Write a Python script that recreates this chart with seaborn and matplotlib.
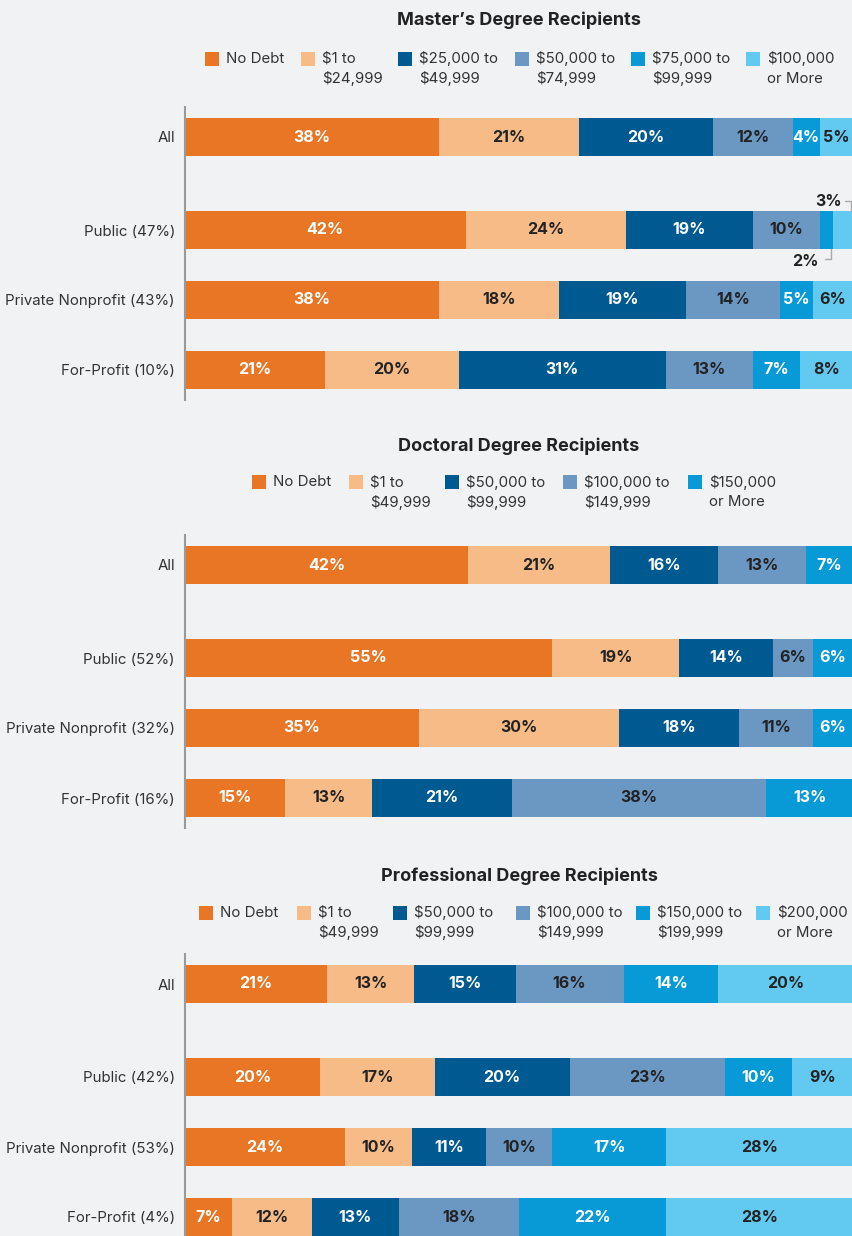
import matplotlib
matplotlib.use("Agg")
import matplotlib.pyplot as plt
from matplotlib.patches import Rectangle
import seaborn as sns
import pandas as pd

# ---------------- data ----------------
masters_rows = ["All", "Public (47%)", "Private Nonprofit (43%)", "For-Profit (10%)"]
doctoral_rows = ["All", "Public (52%)", "Private Nonprofit (32%)", "For-Profit (16%)"]
prof_rows = ["All", "Public (42%)", "Private Nonprofit (53%)", "For-Profit (4%)"]

masters_categories = ["No Debt", "$1 to\n$24,999", "$25,000 to\n$49,999",
                      "$50,000 to\n$74,999", "$75,000 to\n$99,999", "$100,000\nor More"]
doctoral_categories = ["No Debt", "$1 to\n$49,999", "$50,000 to\n$99,999",
                       "$100,000 to\n$149,999", "$150,000\nor More"]
prof_categories = ["No Debt", "$1 to\n$49,999", "$50,000 to\n$99,999",
                   "$100,000 to\n$149,999", "$150,000 to\n$199,999", "$200,000\nor More"]

masters_all = [38, 21, 20, 12, 4, 5]
masters_public = [42, 24, 19, 10, 2, 3]
masters_private = [38, 18, 19, 14, 5, 6]
masters_forprofit = [21, 20, 31, 13, 7, 8]

doctoral_all = [42, 21, 16, 13, 7]
doctoral_public = [55, 19, 14, 6, 6]
doctoral_private = [35, 30, 18, 11, 6]
doctoral_forprofit = [15, 13, 21, 38, 13]

prof_all = [21, 13, 15, 16, 14, 20]
prof_public = [20, 17, 20, 23, 10, 9]
prof_private = [24, 10, 11, 10, 17, 28]
prof_forprofit = [7, 12, 13, 18, 22, 28]

titles = ["Master\u2019s Degree Recipients", "Doctoral Degree Recipients",
          "Professional Degree Recipients"]

# ---------------- style ----------------
COLORS = ["#E87624", "#F6BB86", "#005A92", "#6B98C3", "#079AD7", "#62CAF1"]
TEXT_COLORS = ["white", "#222222", "white", "#222222", "white", "#222222"]
BG = "#F1F2F4"
FONT = "Inter"

sns.set_theme(style="white")
plt.rcParams["font.family"] = [FONT, "DejaVu Sans"]
plt.rcParams["text.parse_math"] = False

W, H = 853, 1236
fig = plt.figure(figsize=(W / 100, H / 100), dpi=100, facecolor=BG)


def fx(x):
    return x / W


def fy(y):
    return 1 - y / H


PX_PER_UNIT = 70.0
ROW_POS = [0.0, 93 / 70, 93 / 70 + 1, 93 / 70 + 2]
BAR_W = 38 / 70
AX_LEFT, AX_RIGHT = 185, 853


def draw_panel(center_px, rows, cats, series, title, title_y, leg_y,
               handle_x):
    top = center_px - 30
    bottom = min(center_px + 263, H)
    ax = fig.add_axes([fx(AX_LEFT), fy(bottom), fx(AX_RIGHT - AX_LEFT),
                       (bottom - top) / H])
    ax.set_facecolor(BG)
    ncat = len(cats)
    df = pd.DataFrame(series, columns=cats)
    df["pos"] = ROW_POS
    # rows are drawn as shares of their own total so every bar spans 100%
    totals = df[cats].sum(axis=1)
    cum = df[cats].cumsum(axis=1).div(totals, axis=0) * 100
    share = df[cats].div(totals, axis=0) * 100
    for k in reversed(range(ncat)):
        sns.barplot(x=cum.iloc[:, k].values, y=df["pos"].values, orient="h",
                    native_scale=True, color=COLORS[k], saturation=1,
                    width=BAR_W, linewidth=0, errorbar=None, ax=ax)
    ax.set_xlim(0, 100)
    ax.set_ylim((bottom - center_px) / PX_PER_UNIT, -30 / PX_PER_UNIT)
    ax.set_yticks(ROW_POS)
    ax.set_yticklabels(rows, fontsize=10.8, color="#333333")
    ax.tick_params(axis="y", length=0, pad=7.2)
    ax.set_xticks([])
    ax.set_xlabel("")
    ax.set_ylabel("")
    for s in ["top", "right", "bottom"]:
        ax.spines[s].set_visible(False)
    ax.spines["left"].set_color("#9a9a9a")
    ax.spines["left"].set_linewidth(1.5)

    labels = []
    for i in range(len(rows)):
        for k in range(ncat):
            labels.append((i, k, df[cats[k]].iloc[i], cum.iloc[i, k],
                           share.iloc[i, k]))
    # title
    fig.text(fx(519), fy(title_y), title, ha="center", va="center",
             fontsize=13, fontweight="bold", color="#222222")
    # legend
    for k, lab in enumerate(cats):
        hx = handle_x[k]
        fig.patches.append(Rectangle((fx(hx), fy(leg_y + 7)), 14 / W, 14 / H,
                                     transform=fig.transFigure,
                                     facecolor=COLORS[k], edgecolor="none"))
        for j, line in enumerate(lab.split("\n")):
            fig.text(fx(hx + 21), fy(leg_y + 20 * j), line, ha="left",
                     va="center", fontsize=10.8, color="#333333")
    return ax, df, cum, labels


def put_labels(ax, labels, skip=()):
    for (i, k, v, c, sh) in labels:
        if (i, k) in skip:
            continue
        ax.text(c - sh / 2, ROW_POS[i], f"{v}%", ha="center",
                va="center", fontsize=11.5, fontweight="bold",
                color=TEXT_COLORS[k])


# Master's
ax1, df1, cum1, lab1 = draw_panel(
    137, masters_rows, masters_categories,
    [masters_all, masters_public, masters_private, masters_forprofit],
    titles[0], 20, 59, [205, 301, 398, 515, 631, 746])
put_labels(ax1, lab1, skip={(1, 4), (1, 5)})
# callouts for small Public segments
pub = ROW_POS[1]
half = BAR_W / 2
end5 = cum1.iloc[1, 5]
end4 = cum1.iloc[1, 4]
v5 = masters_public[5]
v4 = masters_public[4]
lc = "#aaaaaa"
ax1.plot([end5 - 1.25, end5 - 0.3, end5 - 0.3],
         [pub - 29 / 70, pub - 29 / 70, pub - half], color=lc, lw=1,
         clip_on=False)
ax1.text(end5 - 1.65, pub - 28 / 70, f"{v5}%", ha="right", va="center",
         fontsize=11.5, fontweight="bold", color="#222222")
ax1.plot([end4 - 1.2, end4 - 0.3, end4 - 0.3],
         [pub + 29 / 70, pub + 29 / 70, pub + half], color=lc, lw=1,
         clip_on=False)
ax1.text(end4 - 2.1, pub + 32 / 70, f"{v4}%", ha="right", va="center",
         fontsize=11.5, fontweight="bold", color="#222222")

# Doctoral
ax2, df2, cum2, lab2 = draw_panel(
    565, doctoral_rows, doctoral_categories,
    [doctoral_all, doctoral_public, doctoral_private, doctoral_forprofit],
    titles[1], 446, 482, [252, 349, 445, 563, 688])
put_labels(ax2, lab2)

# Professional
ax3, df3, cum3, lab3 = draw_panel(
    984, prof_rows, prof_categories,
    [prof_all, prof_public, prof_private, prof_forprofit],
    titles[2], 876, 913, [199, 297, 393, 516, 636, 756])
put_labels(ax3, lab3)

fig.savefig("out.png", dpi=100, facecolor=BG)
